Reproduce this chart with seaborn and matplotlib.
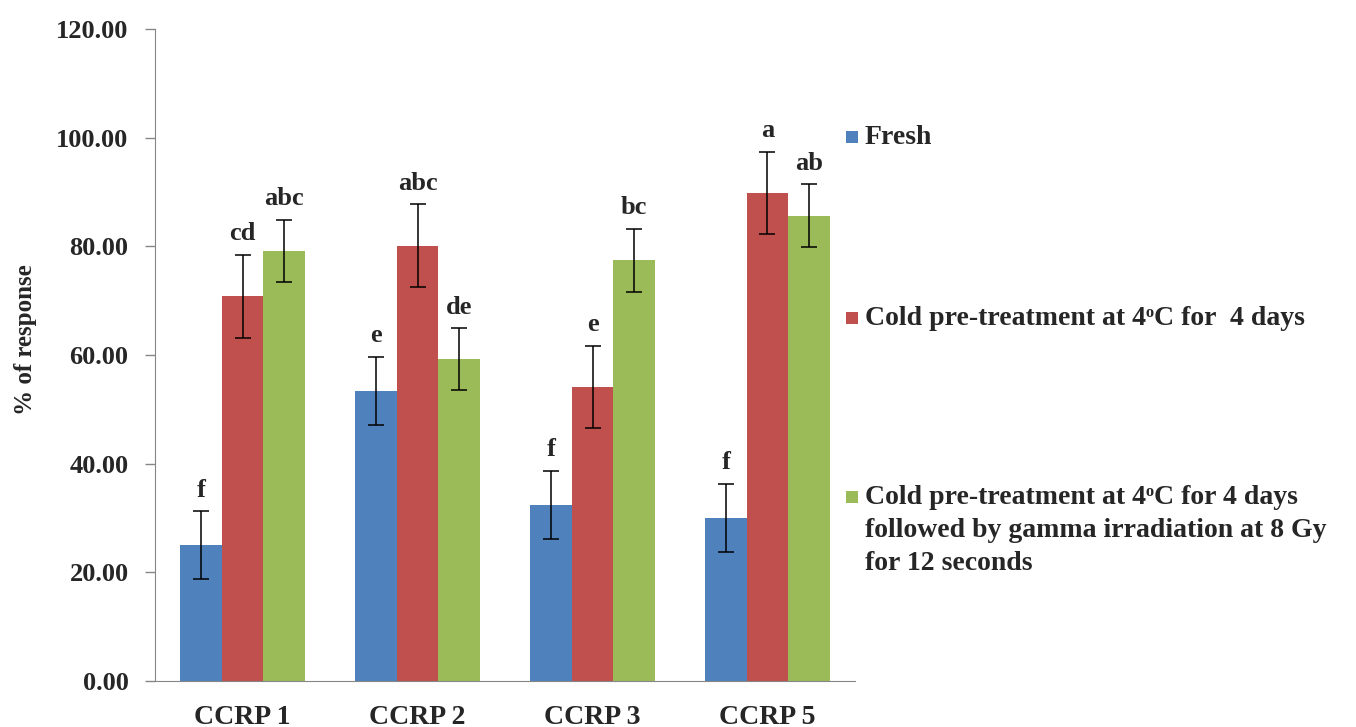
# ===============================
# 1. Import Libraries
# ===============================
import numpy as np
import pandas as pd
import matplotlib
matplotlib.use("Agg")
import matplotlib.pyplot as plt
import seaborn as sns
from matplotlib.patches import Rectangle

# ===============================
# 2. Data
# ===============================
genotypes = ["CCRP 1", "CCRP 2", "CCRP 3", "CCRP 5"]
treatments = [
    "Fresh",
    "Cold pre-treatment at 4\u1d52C for  4 days",
    "Cold pre-treatment at 4\u1d52C for 4 days\nfollowed by gamma irradiation at 8 Gy\nfor 12 seconds",
]

fresh = [25.0, 53.4, 32.4, 30.0]
cold = [70.8, 80.1, 54.1, 89.8]
cold_gamma = [79.1, 59.2, 77.4, 85.6]

fresh_err = [6.2, 6.3, 6.2, 6.3]
cold_err = [7.6, 7.6, 7.6, 7.6]
cold_gamma_err = [5.7, 5.7, 5.8, 5.8]

fresh_letters = ["f", "e", "f", "f"]
cold_letters = ["cd", "abc", "e", "a"]
cold_gamma_letters = ["abc", "de", "bc", "ab"]

colors = ["#4F81BD", "#C0504D", "#9BBB59"]

df = pd.DataFrame({
    "genotype": genotypes * 3,
    "treatment": [treatments[0]] * 4 + [treatments[1]] * 4 + [treatments[2]] * 4,
    "response": fresh + cold + cold_gamma,
    "err": fresh_err + cold_err + cold_gamma_err,
    "letter": fresh_letters + cold_letters + cold_gamma_letters,
})

# ===============================
# 3. Plot
# ===============================
sns.set_style("white")
plt.rcParams["font.family"] = ["Liberation Serif", "DejaVu Serif"]
plt.rcParams["font.weight"] = "bold"

W, H = 1356, 727
fig = plt.figure(figsize=(W / 100, H / 100), dpi=100)
ax = fig.add_axes([155 / W, 1 - 681 / H, 700 / W, 652 / H])

sns.barplot(data=df, x="genotype", y="response", hue="treatment",
            hue_order=treatments, order=genotypes, palette=colors,
            width=0.71, gap=0, errorbar=None, saturation=1,
            linewidth=0, legend=False, ax=ax)

# error bars + significance letters
for i, t in enumerate(treatments):
    container = ax.containers[i]
    sub = df[df["treatment"] == t].set_index("genotype").loc[genotypes]
    for bar, (_, row) in zip(container, sub.iterrows()):
        xc = bar.get_x() + bar.get_width() / 2
        ax.errorbar(xc, row["response"], yerr=row["err"], fmt="none",
                    ecolor="black", elinewidth=1.1, capsize=6, capthick=1.1)
        ax.text(xc, row["response"] + row["err"] + 1.8, row["letter"],
                ha="center", va="bottom", fontsize=19, fontweight="bold")

ax.set_ylim(0, 120)
ax.set_yticks(np.arange(0, 121, 20))
ax.set_yticklabels(["%.2f" % v for v in np.arange(0, 121, 20)],
                   fontsize=19, fontweight="bold")
ax.set_xlim(-0.5, 3.5)
ax.set_xlabel("")
ax.set_ylabel("% of response", fontsize=18, fontweight="bold")
ax.yaxis.set_label_coords(-0.169, 0.523)
ax.tick_params(axis="x", length=0, labelsize=20, pad=17)
ax.tick_params(axis="y", left=True, length=7, width=1, color="#868686",
               direction="out", pad=12)
for lab in ax.get_xticklabels():
    lab.set_fontweight("bold")

sns.despine(ax=ax, top=True, right=True)
ax.spines["left"].set_color("#868686")
ax.spines["bottom"].set_color("#868686")

# legend drawn by hand: square aligned with first text line
first_line_y = [137, 318, 497]
line_step = 33.5
for c, label, y0 in zip(colors, treatments, first_line_y):
    fig.add_artist(Rectangle((846 / W, 1 - (y0 + 6) / H), 12 / W, 12 / H,
                             transform=fig.transFigure, facecolor=c,
                             edgecolor="none"))
    for k, line in enumerate(label.split("\n")):
        fig.text(865 / W, 1 - (y0 + k * line_step) / H, line,
                 ha="left", va="center", fontsize=20, fontweight="bold")

fig.savefig("out.png", dpi=100)
